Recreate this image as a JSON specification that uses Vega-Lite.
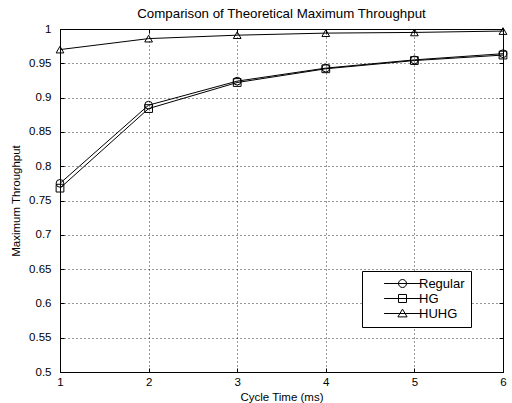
{
  "$schema": "https://vega.github.io/schema/vega-lite/v6.json",
  "width": 443,
  "height": 343,
  "autosize": {"type": "none"},
  "padding": {"left": 60, "top": 29, "right": 9, "bottom": 31},
  "background": "white",
  "title": {"text": "Comparison of Theoretical Maximum Throughput", "font": "Liberation Sans", "fontSize": 13.3, "fontWeight": "normal", "color": "black", "offset": 3},
  "config": {
    "view": {"stroke": "black", "strokeWidth": 1},
    "font": "Liberation Sans",
    "axis": {"labelFont": "Liberation Sans", "labelFontSize": 11.5, "labelColor": "black", "titleFont": "Liberation Sans", "titleFontSize": 11.5, "titleFontWeight": "normal", "titleColor": "black", "domainColor": "black", "tickColor": "black", "tickSize": -4, "gridColor": "black", "gridDash": [1, 3], "gridOpacity": 0.8}
  },
  "data": {"values": [
    {"t": 1, "y": 0.775, "series": "Regular"},
    {"t": 2, "y": 0.889, "series": "Regular"},
    {"t": 3, "y": 0.924, "series": "Regular"},
    {"t": 4, "y": 0.943, "series": "Regular"},
    {"t": 5, "y": 0.955, "series": "Regular"},
    {"t": 6, "y": 0.964, "series": "Regular"},
    {"t": 1, "y": 0.768, "series": "HG"},
    {"t": 2, "y": 0.884, "series": "HG"},
    {"t": 3, "y": 0.922, "series": "HG"},
    {"t": 4, "y": 0.942, "series": "HG"},
    {"t": 5, "y": 0.954, "series": "HG"},
    {"t": 6, "y": 0.962, "series": "HG"},
    {"t": 1, "y": 0.970, "series": "HUHG"},
    {"t": 2, "y": 0.986, "series": "HUHG"},
    {"t": 3, "y": 0.991, "series": "HUHG"},
    {"t": 4, "y": 0.994, "series": "HUHG"},
    {"t": 5, "y": 0.995, "series": "HUHG"},
    {"t": 6, "y": 0.997, "series": "HUHG"}
  ]},
  "layer": [
    {
      "encoding": {
        "x": {"field": "t", "type": "quantitative", "scale": {"domain": [1, 6], "nice": false, "zero": false},
          "axis": {"values": [1, 2, 3, 4, 5, 6], "title": "Cycle Time (ms)", "titlePadding": 4, "labelPadding": 8, "labelFlush": false}},
        "y": {"field": "y", "type": "quantitative", "scale": {"domain": [0.5, 1], "nice": false, "zero": false},
          "axis": {"values": [0.5, 0.55, 0.6, 0.65, 0.7, 0.75, 0.8, 0.85, 0.9, 0.95, 1], "format": ".2~f", "title": "Maximum Throughput", "titlePadding": 7, "labelPadding": 13}}
      },
      "layer": [
        {"mark": {"type": "line", "color": "black", "strokeWidth": 1},
         "encoding": {"detail": {"field": "series"}}},
        {"mark": {"type": "point", "filled": false, "color": "black", "strokeWidth": 1, "size": 60, "opacity": 1},
         "encoding": {"shape": {"field": "series", "type": "nominal",
            "scale": {"domain": ["Regular", "HG", "HUHG"], "range": ["circle", "square", "triangle-up"]},
            "legend": null}}},
        {"mark": {"type": "point", "filled": false, "color": "black", "strokeWidth": 1, "size": 64, "opacity": 0},
         "encoding": {"shape": {"field": "series", "type": "nominal",
            "scale": {"domain": ["Regular", "HG", "HUHG"], "range": [
              "M-4.6,0L4.6,0M-1,0A1,1 0 1,1 1,0A1,1 0 1,1 -1,0",
              "M-4.6,0L4.6,0M-1,-1L1,-1L1,1L-1,1Z",
              "M-4.6,0L4.6,0M0,-1.1L1.15,0.85L-1.15,0.85Z"]},
            "legend": {"title": null, "orient": "none", "legendX": 302, "legendY": 242,
              "strokeColor": "black", "fillColor": "white", "padding": 6,
              "labelFont": "Liberation Sans", "labelFontSize": 13, "labelColor": "black",
              "symbolSize": 64, "symbolOffset": 28, "labelOffset": 10, "rowPadding": 1,
              "symbolStrokeColor": "black", "symbolStrokeWidth": 1, "symbolOpacity": 1, "symbolFillColor": "transparent"}}}}
      ],
      "resolve": {"scale": {"shape": "independent"}}
    },
    {
      "mark": {"type": "point", "opacity": 0},
      "encoding": {
        "x": {"field": "t", "type": "quantitative",
          "axis": {"orient": "top", "values": [1, 2, 3, 4, 5, 6], "labels": false, "title": null, "grid": false, "domain": false}},
        "y": {"field": "y", "type": "quantitative",
          "axis": {"orient": "right", "values": [0.5, 0.55, 0.6, 0.65, 0.7, 0.75, 0.8, 0.85, 0.9, 0.95, 1], "labels": false, "title": null, "grid": false, "domain": false}}
      }
    }
  ],
  "resolve": {"axis": {"x": "independent", "y": "independent"}}
}
